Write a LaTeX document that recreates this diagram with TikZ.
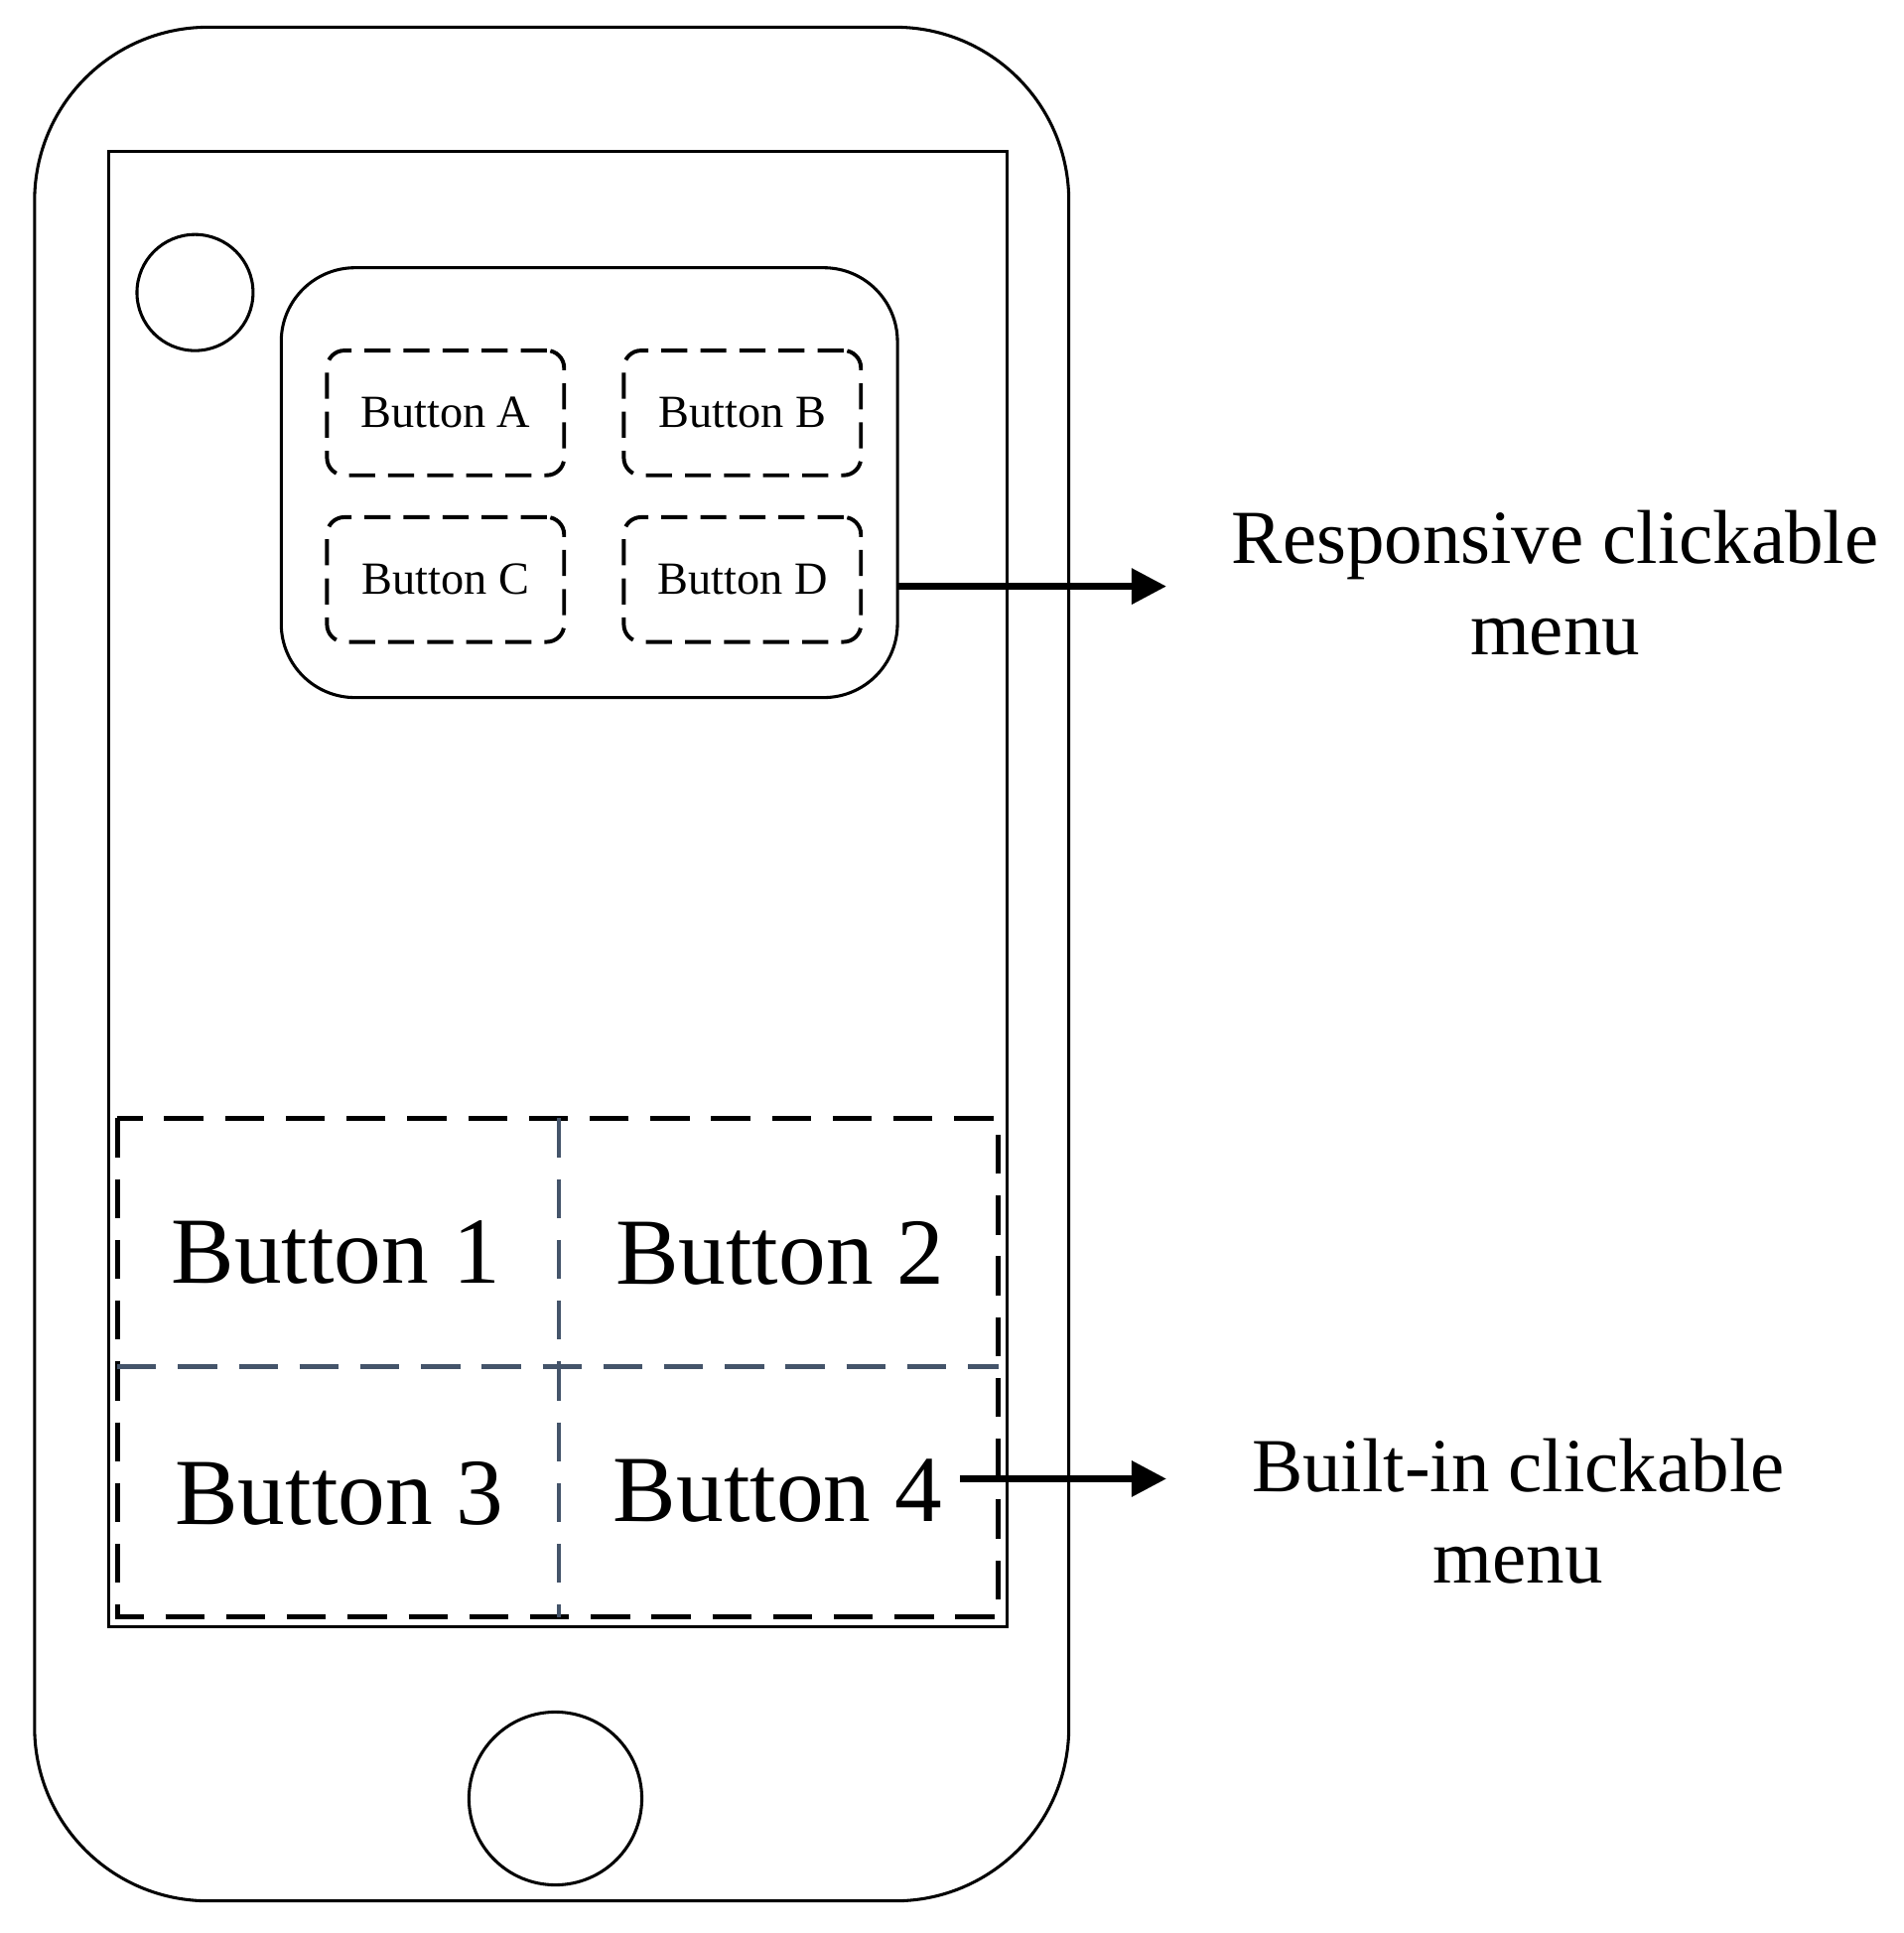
\documentclass[tikz,border=0pt]{standalone}
\usepackage{fontspec}
\setmainfont{Liberation Serif}
\usetikzlibrary{arrows.meta}
\definecolor{slate}{HTML}{44546A}
\begin{document}
\begin{tikzpicture}
      [ x=0.01cm, y=-0.01cm
      , outline/.style={draw, line width=0.7pt}
      , smallbtn/.style={draw, line width=0.9pt, dash pattern=on 6pt off 3pt, rounded corners=4pt,
          minimum width=1.92cm, minimum height=1.01cm, font=\fontsize{10.6}{12}\selectfont}
      , bigtxt/.style={font=\fontsize{21.8}{26}\selectfont}
      , label/.style={align=center, font=\fontsize{17.6}{21}\selectfont}
      , pointer/.style={-{Triangle[length=8pt,width=8pt]}, line width=1.5pt}
      ]
    \useasboundingbox (0,0) rectangle (1542,1566);
    % phone body and screen
    \draw[outline, rounded corners=40pt] (28,22) rectangle (866,1540);
    \draw[outline] (88,123) rectangle (816,1318);
    \node[outline, circle, minimum size=0.94cm] (cam) at (158,237) {};
    \node[outline, circle, minimum size=1.4cm] (home) at (450,1457) {};

    % responsive menu
    \node[outline, rounded corners=17pt, minimum width=4.99cm, minimum height=3.48cm] (menu) at (477.5,391) {};
    \node[smallbtn] (bA) at (361,334.5) {Button A};
    \node[smallbtn] (bB) at (601.5,334.5) {Button B};
    \node[smallbtn] (bC) at (361,469.5) {Button C};
    \node[smallbtn] (bD) at (601.5,469.5) {Button D};

    % built-in menu
    \draw[line width=1.1pt, dash pattern=on 9pt off 5pt] (95,906) rectangle (809,1310);
    \draw[slate, line width=1pt, dash pattern=on 9pt off 5pt] (453,906) -- (453,1310);
    \draw[slate, line width=1pt, dash pattern=on 9pt off 5pt] (95,1107) -- (809,1107);
    \node[bigtxt] (b1) at (272,1015) {Button 1};
    \node[bigtxt] (b2) at (632,1015) {Button 2};
    \node[bigtxt] (b3) at (275,1210) {Button 3};
    \node[bigtxt] (b4) at (630,1208) {Button 4};

    % callouts
    \node[label] (resp) at (1260,472) {Responsive clickable\\menu};
    \node[label] (built) at (1230,1224) {Built-in clickable\\menu};
    \coordinate (s1) at (727,475);
    \coordinate (e1) at (945,475);
    \coordinate (s2) at (778,1198);
    \coordinate (e2) at (945,1198);
    \draw[pointer] (s1) -- (e1);
    \draw[pointer] (s2) -- (e2);
\end{tikzpicture}
\end{document}
